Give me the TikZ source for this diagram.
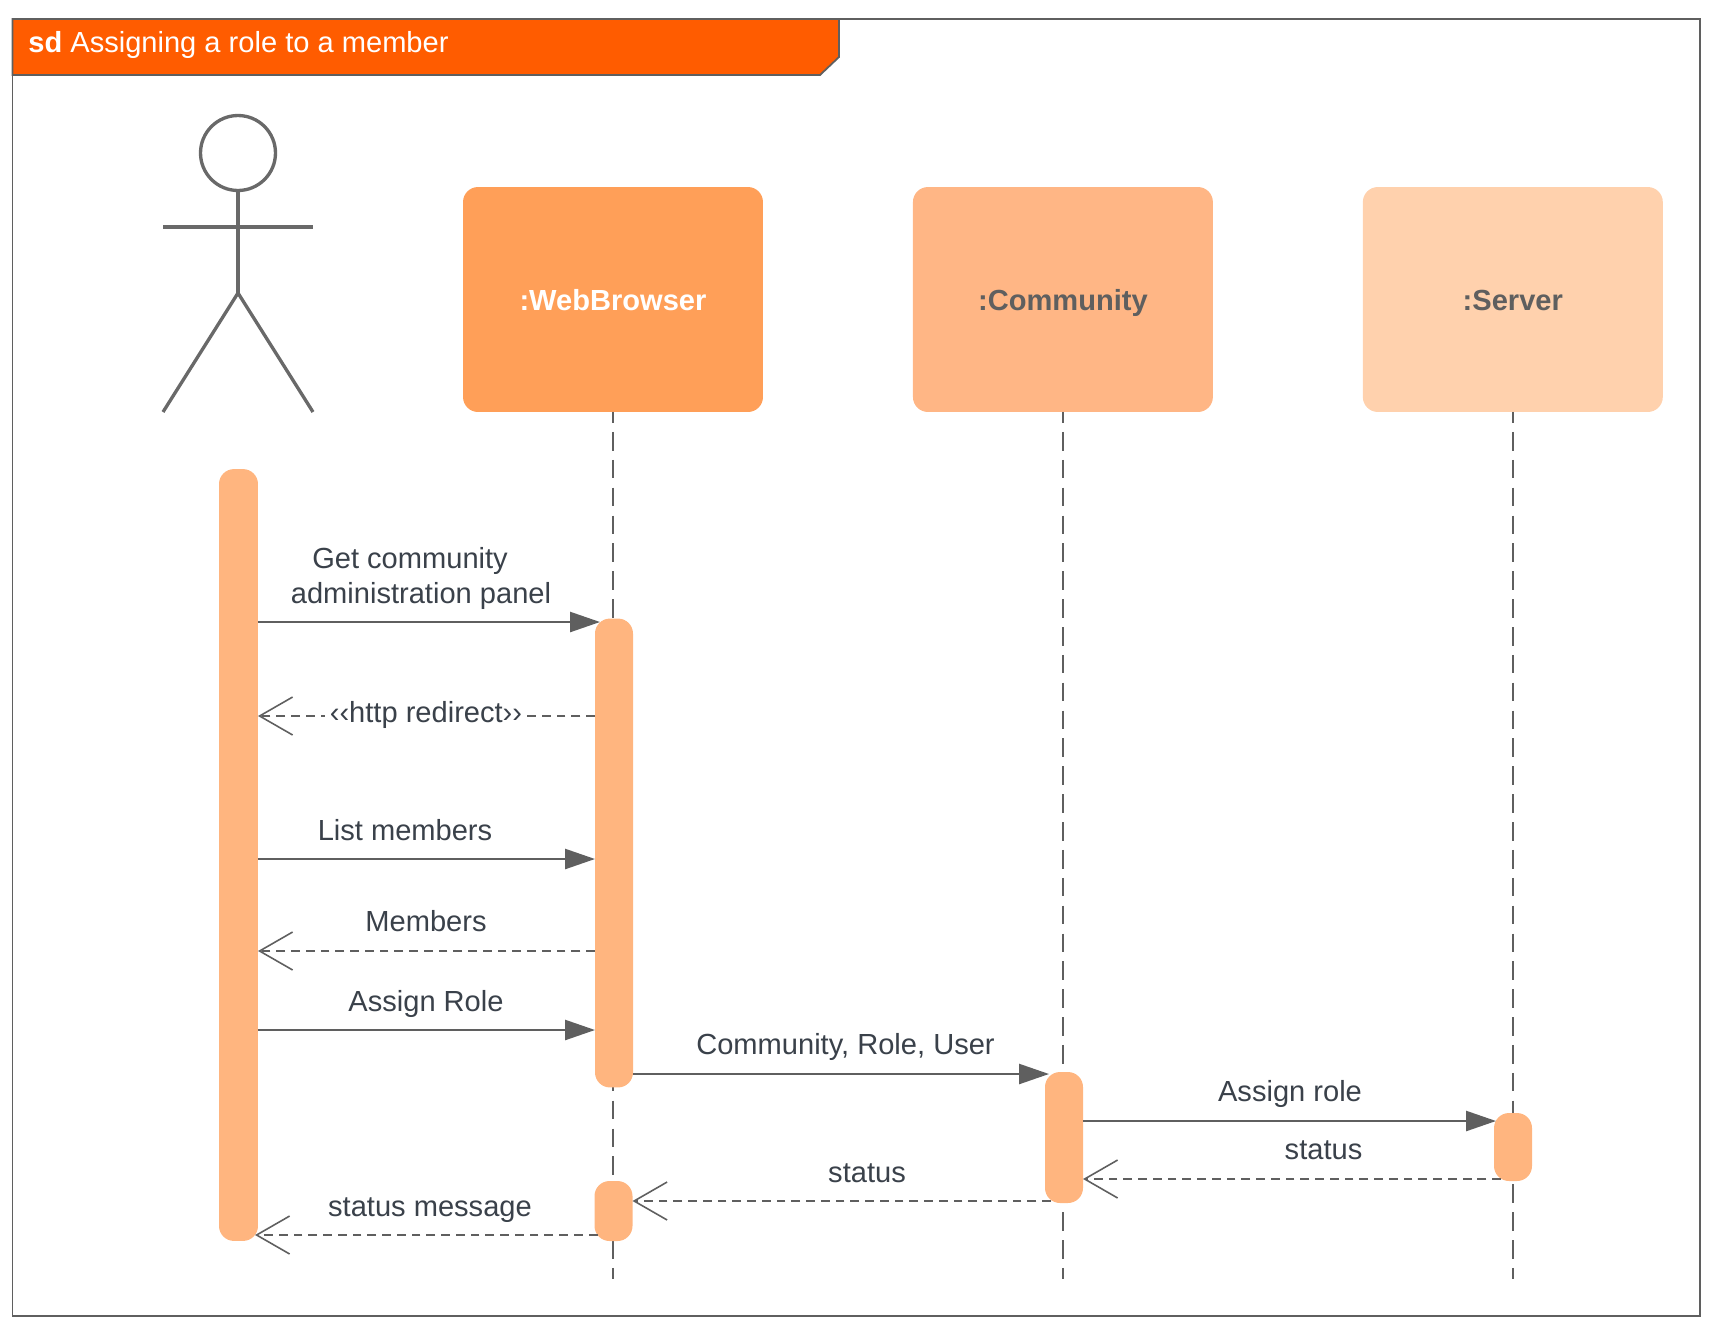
\documentclass[tikz,border=0pt]{standalone}
\usepackage{fontspec}
\setmainfont{Liberation Sans}
\usetikzlibrary{arrows.meta, positioning}
\definecolor{framegray}{HTML}{5F5F5F}
\definecolor{limbgray}{HTML}{696969}
\definecolor{titleorange}{HTML}{FF5C00}
\definecolor{boxone}{HTML}{FF9F58}
\definecolor{boxtwo}{HTML}{FFB685}
\definecolor{boxthree}{HTML}{FFD1AD}
\definecolor{barorange}{HTML}{FFB57F}
\definecolor{labelgray}{HTML}{3A414A}

\begin{document}
\begin{tikzpicture}[x=0.02cm, y=-0.02cm,
        headbox/.style={rectangle, minimum width=6cm, minimum height=4.5cm, rounded corners=0.3cm, inner sep=0pt, outer sep=0pt, text=framegray, text height=14pt, text depth=1.7pt, font=\fontsize{16.55}{20}\selectfont\bfseries},
        bar/.style={rectangle, fill=barorange, minimum width=0.76cm, rounded corners=0.3cm, inner sep=0pt, outer sep=0pt},
        lifeline/.style={draw=framegray, line width=1.1pt, dash pattern=on 10.6pt off 5.26pt, dash phase=4.5pt},
        call/.style={draw=framegray, line width=1.2pt, -{Triangle[length=17pt, width=11.4pt]}},
        reply/.style={draw=framegray, line width=0.9pt, dash pattern=on 5pt off 3.4pt, -{Straight Barb[length=18.8pt, width=21.6pt, line width=0.9pt]}},
        msg/.style={text=labelgray, anchor=base, inner sep=0pt, font=\fontsize{16.55}{19.9}\selectfont},
        limb/.style={draw=limbgray, line width=1.9pt}
    ]
        \useasboundingbox (0,0) rectangle (1721,1343);
        % frame and title
        \draw[framegray, line width=1pt] (12.5,19) rectangle (1700,1316);
        \draw[framegray, fill=titleorange, line width=1pt] (12.5,19) -- (839,19) -- (839,57) -- (820,75) -- (12.5,75) -- cycle;
        \node[anchor=base west, inner sep=0pt, text=white, font=\fontsize{16.55}{20}\selectfont] (title) at (28,52) {\textbf{sd} Assigning a role to a member};

        % actor
        \node[circle, limb, minimum size=1.5cm, inner sep=0pt] (head) at (238,153) {};
        \coordinate (hip) at (238,293);
        \coordinate (armL) at (163,227);
        \coordinate (armR) at (313,227);
        \coordinate (footL) at (163,412);
        \coordinate (footR) at (313,412);
        \draw[limb] (head.south) -- (hip);
        \draw[limb] (armL) -- (armR);
        \draw[limb] (footL) -- (hip) -- (footR);

        % heads of the lifelines
        \node[headbox, fill=boxone, text=white] (web) at (613,299.5) {:WebBrowser};
        \node[headbox, fill=boxtwo, right=3cm of web] (community) {:Community};
        \node[headbox, fill=boxthree, right=3cm of community] (server) {:Server};
        \coordinate (bottom) at (0,1279);
        \draw[lifeline] (web.south) -- (web.south |- bottom);
        \draw[lifeline] (community.south) -- (community.south |- bottom);
        \draw[lifeline] (server.south) -- (server.south |- bottom);

        % activation bars
        \node[bar, minimum width=0.78cm, minimum height=15.44cm] (actorbar) at (238.5,855) {};
        \node[bar, minimum height=9.38cm] (webbar) at (614,853) {};
        \node[bar, minimum height=1.2cm] (webbarb) at (613.5,1211) {};
        \node[bar, minimum height=2.62cm] (communitybar) at (1064,1137.5) {};
        \node[bar, minimum height=1.36cm] (serverbar) at (1513,1147) {};

        % message heights
        \coordinate (m1) at (0,622);
        \coordinate (m2) at (0,716);
        \coordinate (m3) at (0,859);
        \coordinate (m4) at (0,951);
        \coordinate (m5) at (0,1030);
        \coordinate (m6) at (0,1074);
        \coordinate (m7) at (0,1121);
        \coordinate (m8) at (0,1179);
        \coordinate (m9) at (0,1201);
        \coordinate (m10) at (0,1235);

        \draw[call] (actorbar.east |- m1) -- ([xshift=0.1cm]webbar.west |- m1);
        \draw[reply] (webbar.west |- m2) -- (actorbar.east |- m2);
        \draw[call] (actorbar.east |- m3) -- (webbar.west |- m3);
        \draw[reply] (webbar.west |- m4) -- (actorbar.east |- m4);
        \draw[call] (actorbar.east |- m5) -- (webbar.west |- m5);
        \draw[call] (webbar.east |- m6) -- ([xshift=0.08cm]communitybar.west |- m6);
        \draw[call] (communitybar.east |- m7) -- ([xshift=0.04cm]serverbar.west |- m7);
        \draw[reply] ([xshift=0.14cm]serverbar.west |- m8) -- (communitybar.east |- m8);
        \draw[reply] ([xshift=0.12cm]communitybar.west |- m9) -- (webbarb.east |- m9);
        \draw[reply] ([xshift=0.06cm]webbarb.west |- m10) -- ([xshift=-0.06cm]actorbar.east |- m10);

        % message labels
        \node[msg, anchor=center, align=center] (getpanel) at (421,578) {Get community\hspace*{12.5pt}\\administration panel};
        \node[msg, fill=white, inner xsep=3pt, inner ysep=1pt] (redirect) at (426,722) {‹‹http redirect››};
        \node[msg] (listmembers) at (405,840) {List members};
        \node[msg] (members) at (426,931) {Members};
        \node[msg] (assignrole) at (426,1011) {Assign Role};
        \node[msg] (crole) at (845.5,1054) {Community, Role, User};
        \node[msg] (assignsrv) at (1290,1101) {Assign role};
        \node[msg] (statusb) at (1323.5,1159) {status};
        \node[msg] (statusc) at (867,1182) {status};
        \node[msg] (statusmsg) at (430,1216) {status message};
    \end{tikzpicture}
\end{document}
